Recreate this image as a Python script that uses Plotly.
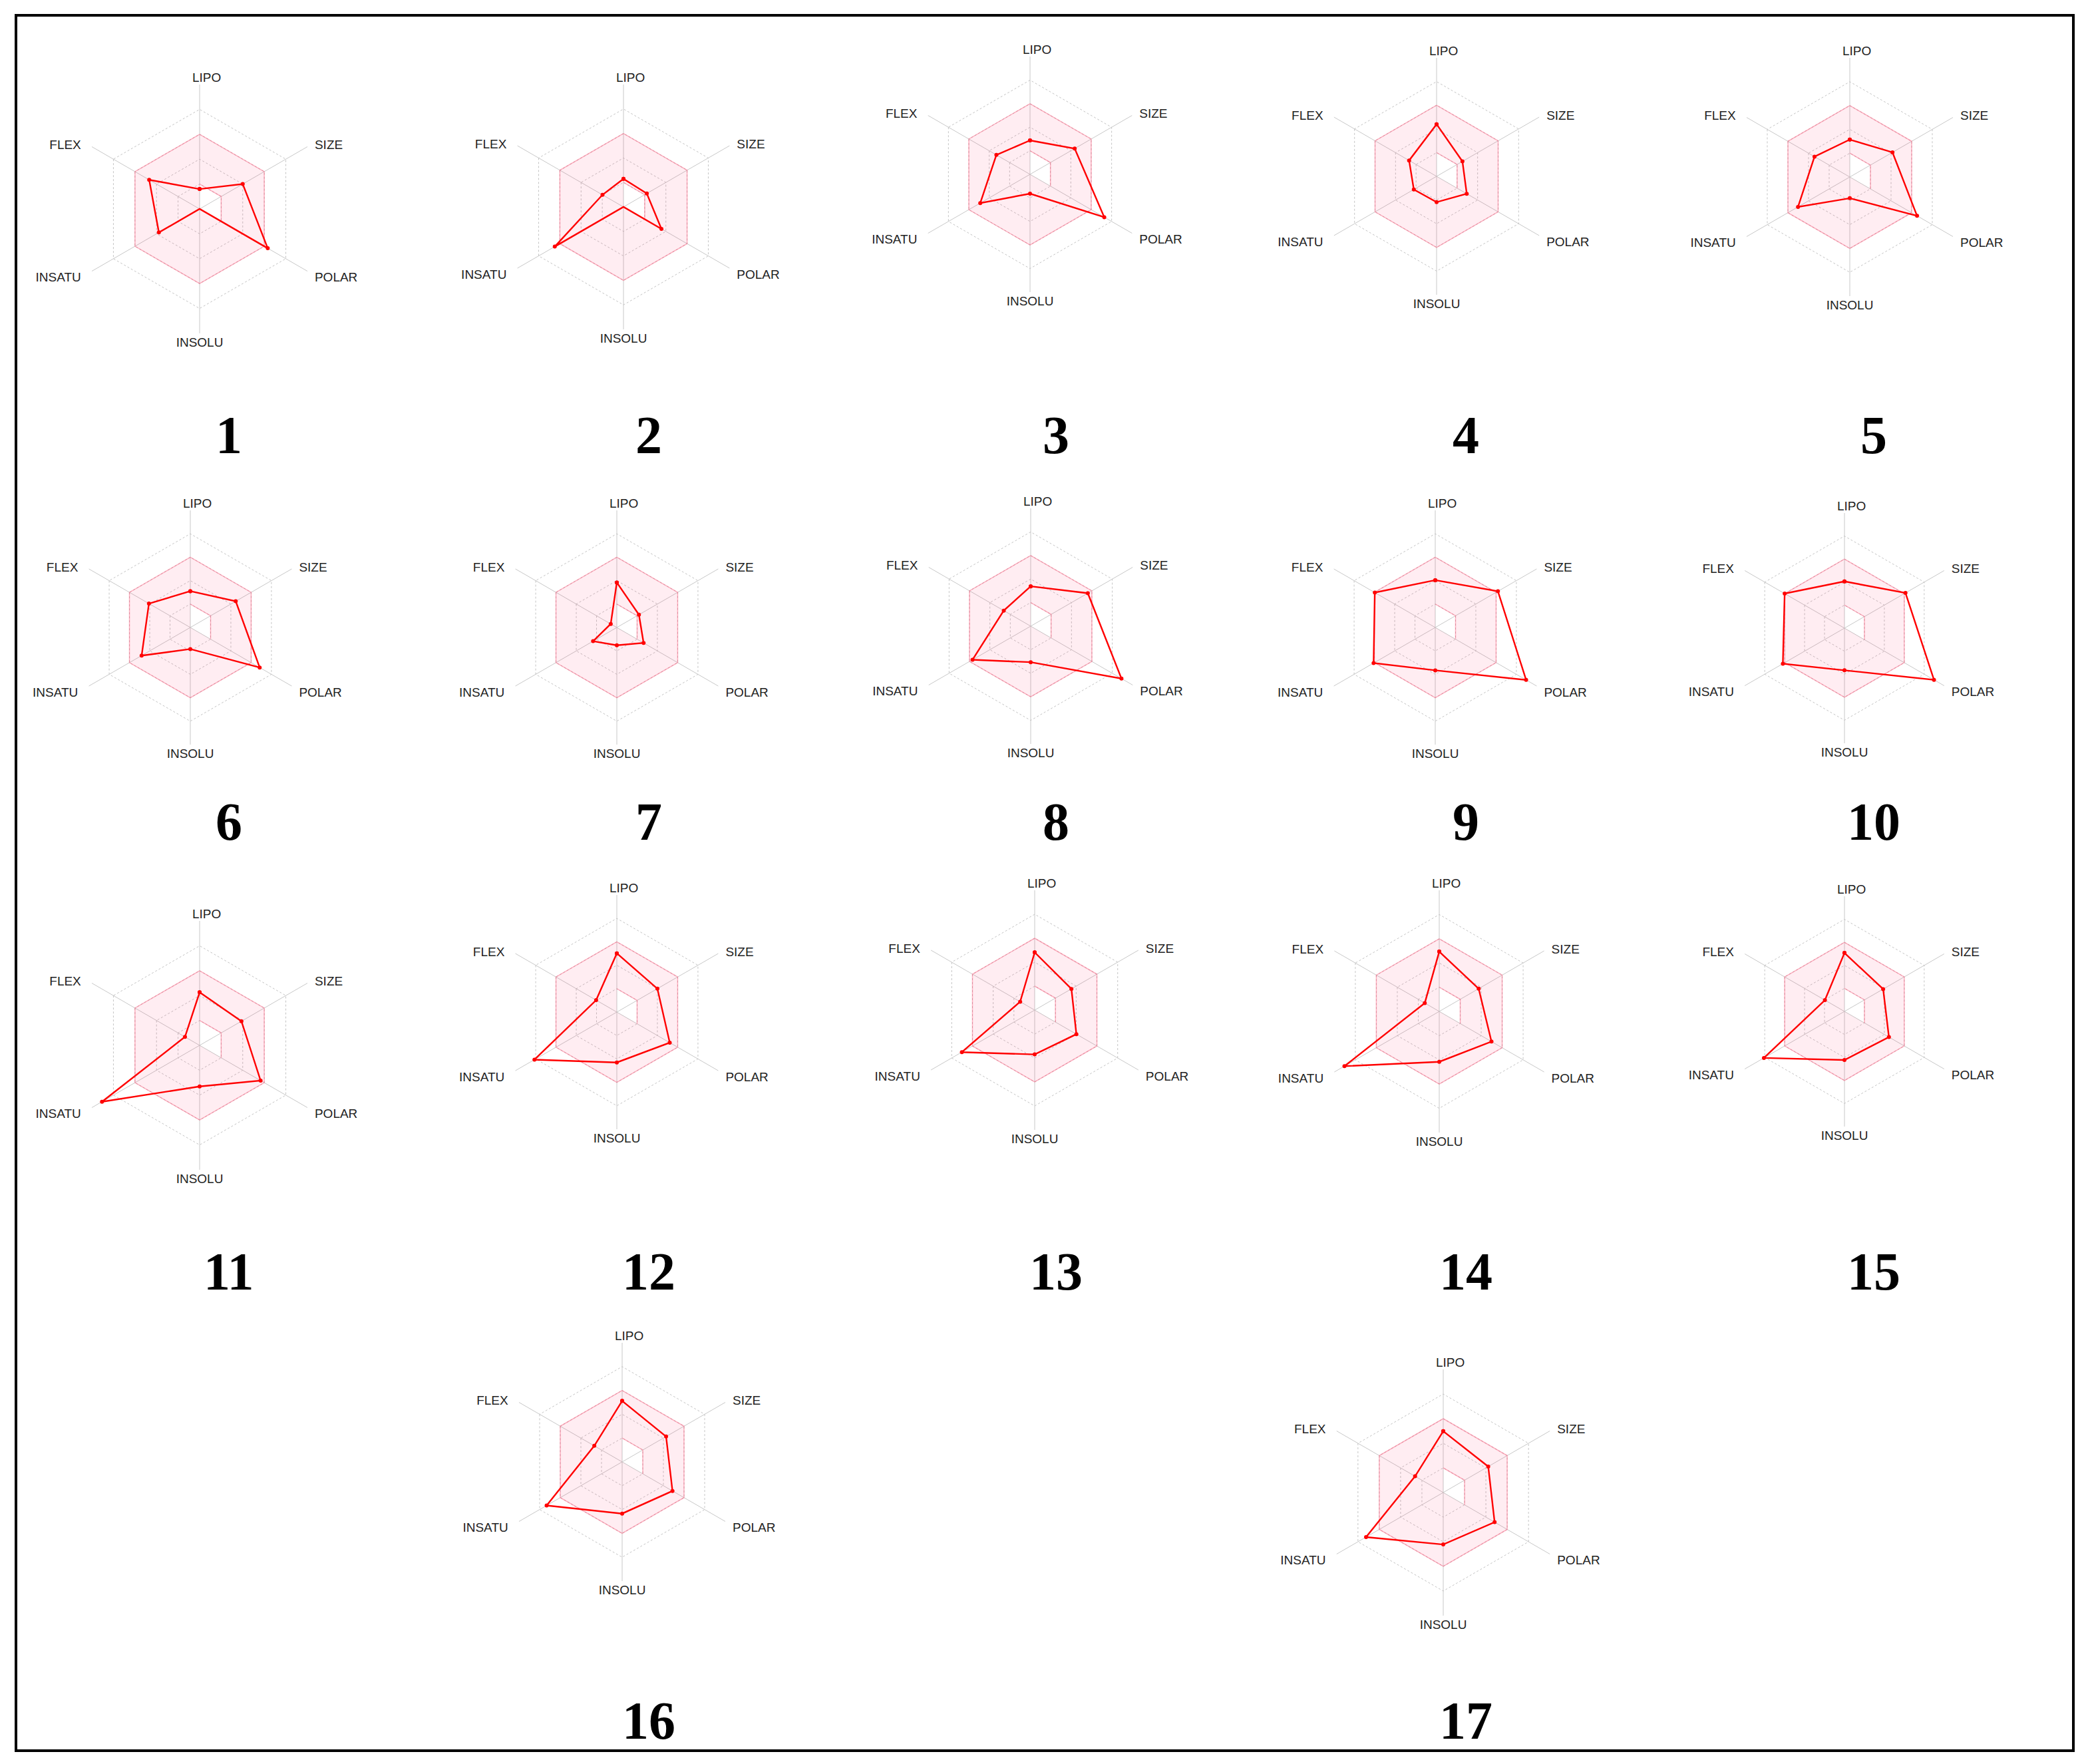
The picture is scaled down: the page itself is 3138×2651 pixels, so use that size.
import plotly.graph_objects as go

W, H = 3138, 2651

AXES = ["LIPO", "SIZE", "POLAR", "INSOLU", "INSATU", "FLEX"]
# tick text padded with no-break spaces to push labels off the vertices like the original
AXIS_TEXT = [
    "\u00a0\u00a0\u00a0\u00a0LIPO",
    "\u00a0\u00a0SIZE",
    "\u00a0\u00a0POLAR",
    "INSOLU",
    "INSATU\u00a0\u00a0\u00a0",
    "FLEX\u00a0\u00a0\u00a0",
]
COMPOUNDS = [str(i) for i in range(1, 18)]

# values (0-5 scale, rings at 1..5)
lipo = [0.8, 1.15, 1.44, 2.2, 1.57, 1.55, 1.92, 1.69, 2.02, 2.03, 2.13, 2.51, 2.41, 2.47, 2.54, 2.56, 2.49]
size = [2.0, 1.1, 2.19, 1.26, 2.07, 2.24, 1.09, 2.8, 3.09, 3.06, 1.94, 2.0, 1.77, 1.88, 1.94, 2.13, 2.11]
polar = [3.16, 1.79, 3.64, 1.47, 3.26, 3.42, 1.32, 4.45, 4.48, 4.49, 2.83, 2.61, 2.01, 2.49, 2.23, 2.44, 2.41]
insolu = [0.0, 0.0, 0.82, 1.09, 0.89, 0.92, 0.76, 1.53, 1.83, 1.83, 1.65, 2.15, 1.85, 2.08, 2.11, 2.17, 2.11]
insatu = [1.89, 3.24, 2.44, 1.11, 2.51, 2.4, 1.17, 2.85, 3.04, 3.09, 4.53, 4.06, 3.51, 4.52, 4.04, 3.66, 3.62]
flex = [2.34, 0.99, 1.65, 1.34, 1.71, 2.04, 0.3, 1.32, 2.98, 3.0, 0.68, 1.02, 0.7, 0.69, 0.98, 1.35, 1.32]

# optimal (pink) zone boundaries
band_outer = [3, 3, 3, 3, 3, 3]
band_inner = [1, 1, 1, 0, 0, 0]

# radar centre (px) and radius (px) for each panel
PANELS = [
    (300, 314, 187), (937, 311, 184), (1548, 262, 177), (2159, 265, 178), (2780, 266, 179),
    (286, 943, 176), (927, 943, 176), (1549, 941, 177), (2157, 943, 176), (2772, 944, 173),
    (300, 1571, 187), (927, 1521, 176), (1555, 1518, 180), (2163, 1520, 182), (2772, 1520, 173),
    (935, 2197, 179), (2169, 2243, 185),
]
# number label positions (px)
NUMBER_POS = [
    (344, 654), (975, 654), (1587, 654), (2203, 654), (2816, 654),
    (344, 1235), (975, 1235), (1587, 1235), (2203, 1235), (2816, 1235),
    (344, 1911), (975, 1911), (1587, 1911), (2203, 1911), (2816, 1911),
    (975, 2586), (2203, 2586),
]

fig = go.Figure()
layout = {}

for i, name in enumerate(COMPOUNDS):
    key = "polar" if i == 0 else f"polar{i + 1}"
    cx, cy, r = PANELS[i]
    layout[key] = dict(
        domain=dict(
            x=[(cx - r) / W, (cx + r) / W],
            y=[1 - (cy + r) / H, 1 - (cy - r) / H],
        ),
        gridshape="linear",
        bgcolor="rgba(0,0,0,0)",
        radialaxis=dict(
            range=[0, 5],
            tickvals=[1, 2, 3, 4, 5],
            showticklabels=False,
            ticks="",
            showline=False,
            gridcolor="#c4c4c4",
            griddash="dot",
            gridwidth=1,
        ),
        angularaxis=dict(
            type="category",
            categoryarray=AXES,
            tickmode="array",
            tickvals=AXES,
            ticktext=AXIS_TEXT,
            rotation=90,
            direction="clockwise",
            showline=False,
            ticks="",
            gridcolor="#c8c8c8",
            gridwidth=1,
            tickfont=dict(family="Liberation Sans, Arial", size=19, color="#222222"),
        ),
    )

    # pink band: outer hexagon then inner boundary walked backwards
    band_theta = AXES + [AXES[0]] + [AXES[0]] + AXES[::-1]
    band_r = band_outer + [band_outer[0]] + [band_inner[0]] + band_inner[::-1]
    fig.add_trace(go.Scatterpolar(
        r=band_r, theta=band_theta, subplot=key, mode="lines",
        fill="toself", fillcolor="rgba(255,0,70,0.07)",
        line=dict(width=0), hoverinfo="skip", showlegend=False,
    ))
    fig.add_trace(go.Scatterpolar(
        r=band_outer + [band_outer[0]], theta=AXES + [AXES[0]], subplot=key,
        mode="lines", line=dict(color="rgba(255,60,100,0.38)", width=1.5),
        hoverinfo="skip", showlegend=False,
    ))
    fig.add_trace(go.Scatterpolar(
        r=band_inner[:3], theta=AXES[:3], subplot=key,
        mode="lines", line=dict(color="rgba(255,60,100,0.38)", width=1.5),
        hoverinfo="skip", showlegend=False,
    ))

    vals = [lipo[i], size[i], polar[i], insolu[i], insatu[i], flex[i]]
    fig.add_trace(go.Scatterpolar(
        r=vals + [vals[0]], theta=AXES + [AXES[0]], subplot=key,
        mode="lines+markers",
        line=dict(color="#ff0000", width=2.4),
        marker=dict(color="#ff0000", size=6),
        name=name, showlegend=False,
    ))

annotations = []
for name, (x, y) in zip(COMPOUNDS, NUMBER_POS):
    annotations.append(dict(
        x=x / W, y=1 - y / H, xref="paper", yref="paper",
        text=f"<b>{name}</b>", showarrow=False,
        font=dict(family="Liberation Serif, Times New Roman", size=80, color="#000000"),
        xanchor="center", yanchor="middle",
    ))

fig.update_layout(
    width=W,
    height=H,
    margin=dict(l=0, r=0, t=0, b=0),
    paper_bgcolor="white",
    plot_bgcolor="white",
    showlegend=False,
    annotations=annotations,
    shapes=[dict(
        type="rect", xref="paper", yref="paper",
        x0=24 / W, x1=3116 / W, y0=1 - 2631 / H, y1=1 - 23 / H,
        line=dict(color="black", width=4),
    )],
    **layout,
)

# drop the browser's default body margin so the figure sits at the page origin
fig.write_html(
    "out.html",
    config={"displayModeBar": False},
    post_script="document.body.style.margin='0';",
)
